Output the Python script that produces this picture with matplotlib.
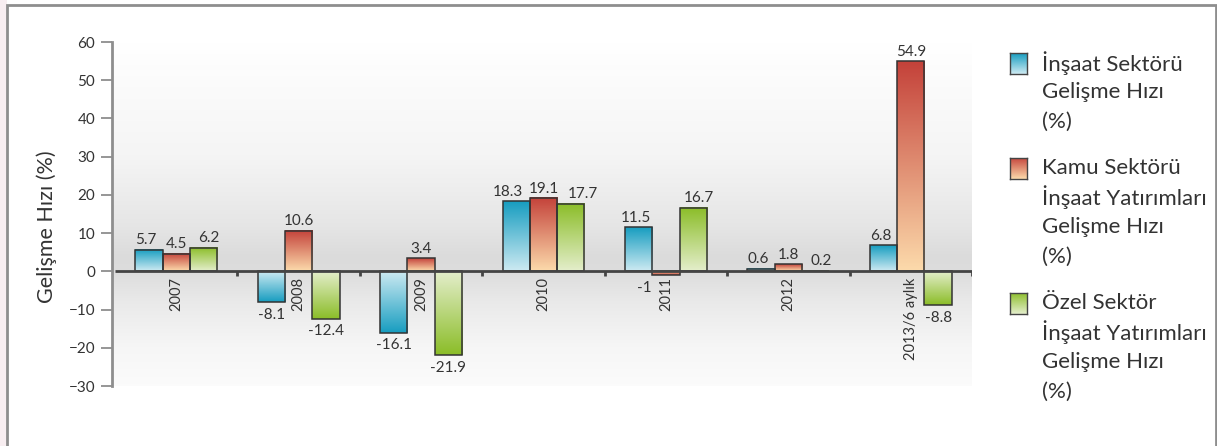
import numpy as np
import matplotlib
matplotlib.use("Agg")
import matplotlib.pyplot as plt
from matplotlib.patches import Rectangle
from matplotlib.colors import to_rgb

# =====================================================
# DATA
# =====================================================

categories = ["2007", "2008", "2009", "2010", "2011", "2012", "2013/6 aylık"]

insaat = [5.7, -8.1, -16.1, 18.3, 11.5, 0.6, 6.8]
kamu = [4.5, 10.6, 3.4, 19.1, -1.0, 1.8, 54.9]
ozel = [6.2, -12.4, -21.9, 17.7, 16.7, 0.2, -8.8]

series_names = [
    "İnşaat Sektörü\nGelişme Hızı\n(%)",
    "Kamu Sektörü\nİnşaat Yatırımları\nGelişme Hızı\n(%)",
    "Özel Sektör\nİnşaat Yatırımları\nGelişme Hızı\n(%)",
]

yticks = [-30, -20, -10, 0, 10, 20, 30, 40, 50, 60]

# dark end / light end of each bar gradient
dark_cols = ["#179dc0", "#c4423a", "#8bbd28"]
light_cols = ["#cdeaf2", "#fcdaab", "#e4eecb"]

plt.rcParams['font.family'] = ['Lato', 'DejaVu Sans']

W, H = 1217, 446
fig = plt.figure(figsize=(W / 100, H / 100), dpi=100)
fig.patch.set_facecolor("white")

# faint pink strip outside the frame + gray frame
fig.patches.append(Rectangle((0, 0), 7 / W, 1, transform=fig.transFigure,
                             facecolor="#f8eef1", edgecolor="none", zorder=-2))
fig.patches.append(Rectangle((7 / W, -0.05), (1216 - 7) / W, (446 - 5) / H + 0.05,
                             transform=fig.transFigure, facecolor="none",
                             edgecolor="#8e8e8e", lw=2, zorder=-1))

# =====================================================
# AXES
# =====================================================

ax = fig.add_axes([112 / W, 60 / H, (972 - 112) / W, (386 - 42) / H])
ax.set_facecolor("none")
n = len(categories)
x = np.arange(n)
ax.set_xlim(-0.5 - 3 / 122.4, n - 0.5)
ax.set_ylim(-30, 60)

# background gradient
gy = np.linspace(-30, 60, 300)
stops_y = [-30, -20, -8, 0, 4, 12, 30, 60]
stops_v = [0.985, 0.965, 0.915, 0.865, 0.86, 0.9, 0.96, 1.0]
g = np.interp(gy, stops_y, stops_v)
bg = np.dstack([g, g, g]).reshape(-1, 1, 3)
ax.imshow(bg, extent=[-0.5 - 3 / 122.4, n - 0.5, -30, 60], origin="lower",
          aspect="auto", zorder=0, interpolation="bilinear")

bw = 0.223
all_series = [insaat, kamu, ozel]
for si, vals in enumerate(all_series):
    c_dark = np.array(to_rgb(dark_cols[si]))
    c_light = np.array(to_rgb(light_cols[si]))
    t = np.linspace(0, 1, 100)[:, None]
    for ci, v in enumerate(vals):
        xc = x[ci] + (si - 1) * bw
        x0, x1 = xc - bw / 2, xc + bw / 2
        if v >= 0:
            grad = c_light * (1 - t) + c_dark * t
            ext = [x0, x1, 0, v]
        else:
            grad = c_dark * (1 - t) + c_light * t
            ext = [x0, x1, v, 0]
        ax.imshow(grad.reshape(-1, 1, 3), extent=ext, origin="lower",
                  aspect="auto", zorder=2, interpolation="bilinear")
        ax.add_patch(Rectangle((x0, min(0, v)), bw, abs(v), facecolor="none",
                               edgecolor="#333333", lw=1.1, zorder=3))

        # value labels, side labels pushed outward a little
        label = f"{v:g}"
        group = [s[ci] for s in all_series]
        crowded = min(group) > 5 and max(group) - min(group) < 3
        if v >= 0:
            dx = 0
            if si == 0:
                dx = -6 if crowded else -2
            elif si == 2:
                dx = 9 if crowded else 4
            ax.annotate(label, (xc, v), xytext=(dx, 2), textcoords="offset points",
                        ha="center", va="bottom", fontsize=11, color="#333333", zorder=4)
        elif v > -2:
            ax.annotate(label, (xc, v), xytext=(-10, -4), textcoords="offset points",
                        ha="right", va="top", fontsize=11, color="#333333", zorder=4)
        else:
            ax.annotate(label, (xc, v), xytext=(0, -4), textcoords="offset points",
                        ha="center", va="top", fontsize=11, color="#333333", zorder=4)

# zero line and category separators
ax.plot([-0.5, n - 0.5], [0, 0], color="#444444", lw=2, zorder=5, solid_capstyle="butt")
ax.vlines(np.arange(n) + 0.5, -1.3, 0, color="#444444", lw=2, zorder=5)

# category labels
for ci, cat in enumerate(categories):
    ax.text(x[ci], -1.6, cat, rotation=90, ha="center", va="top",
            fontsize=10.5, color="#333333", zorder=6)

# y axis
for s in ["top", "right", "bottom"]:
    ax.spines[s].set_visible(False)
ax.spines["left"].set_color("#8e8e8e")
ax.spines["left"].set_linewidth(2)
ax.set_xticks([])
ax.set_yticks(yticks)
ax.tick_params(axis="y", length=8, width=1.3, color="#8e8e8e",
               labelsize=11, labelcolor="#333333", pad=4)

fig.text(47 / W, 1 - 227 / H, "Gelişme Hızı (%)", rotation=90, ha="center",
         va="center", fontsize=15.5, color="#333333")

# =====================================================
# LEGEND
# =====================================================

first_line_y = [63, 168, 303]
line_pitch = 29.5
for si, name in enumerate(series_names):
    y0 = first_line_y[si]
    sw = fig.add_axes([1010 / W, 1 - (y0 + 11) / H, 17 / W, 21 / H])
    t = np.linspace(0, 1, 50)[:, None]
    c_dark = np.array(to_rgb(dark_cols[si]))
    c_light = np.array(to_rgb(light_cols[si]))
    grad = c_light * (1 - t) + c_dark * t
    sw.imshow(grad.reshape(-1, 1, 3), origin="lower", aspect="auto",
              extent=[0, 1, 0, 1], interpolation="bilinear")
    sw.set_xticks([])
    sw.set_yticks([])
    for s in sw.spines.values():
        s.set_color("#444444")
        s.set_linewidth(1)
    for li, line in enumerate(name.split("\n")):
        fig.text(1042 / W, 1 - (y0 + li * line_pitch) / H, line, ha="left",
                 va="center", fontsize=16, color="#333333")

fig.savefig("out.png", dpi=100, facecolor=fig.get_facecolor())
